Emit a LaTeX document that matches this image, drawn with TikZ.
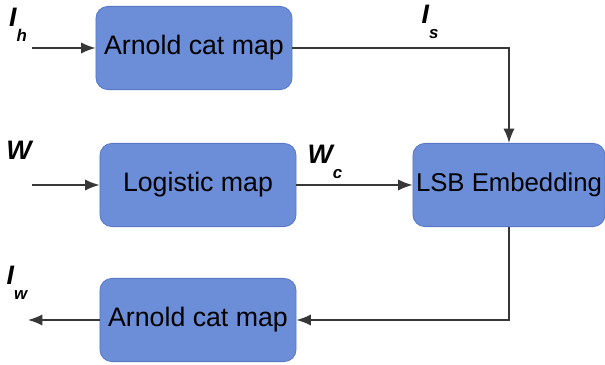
\documentclass[tikz,border=0pt]{standalone}
\usepackage{fontspec}
\setmainfont{Liberation Sans}
\usetikzlibrary{arrows.meta, positioning}
\definecolor{boxblue}{RGB}{108, 141, 216}
\definecolor{boxedge}{RGB}{88, 120, 198}
\definecolor{wire}{RGB}{55, 55, 55}
\newcommand{\sig}[2]{\fontsize{19}{22}\selectfont\bfseries\itshape #1\raisebox{-1.1ex}{\fontsize{12}{12}\selectfont #2}}

\begin{document}
\begin{tikzpicture}[
    x=0.025cm, y=-0.025cm,
    box/.style={rectangle, rounded corners=0.3cm, draw=boxedge, line width=0.6pt, fill=boxblue,
        minimum width=4.9cm, minimum height=2.08cm, inner sep=1pt,
        font=\fontsize{19}{22}\selectfont},
    wirearrow/.style={draw=wire, line width=1.1pt, -{Latex[length=3.6mm, width=2.8mm]}}
]
\useasboundingbox (0,0) rectangle (605,365);

\node[box] (arnoldIn) at (194,48) {Arnold cat map};
\node[box] (logistic) at (198,185) {Logistic map};
\node[box, minimum width=4.8cm, font=\fontsize{18.3}{22}\selectfont] (lsb) at (509,185) {LSB Embedding};
\node[box] (arnoldOut) at (198,320) {Arnold cat map};

\coordinate (hostIn) at (32,48);
\coordinate (markIn) at (32,185);
\coordinate (markOut) at (28,320);

\node (lblIh) at (18,25) {\sig{I}{h}};
\node (lblIs) at (430,22) {\sig{I}{s}};
\node (lblW) at (19,158) {\sig{W}{}};
\node (lblWc) at (325,162) {\sig{W}{c}};
\node (lblIw) at (17,283) {\sig{I}{w}};

\draw[wirearrow] (hostIn) -- (arnoldIn.west);
\draw[wirearrow] (arnoldIn.east) -| (lsb.north);
\draw[wirearrow] (markIn) -- (logistic.west);
\draw[wirearrow] (logistic.east) -- (lsb.west);
\draw[wirearrow] (lsb.south) |- (arnoldOut.east);
\draw[wirearrow] (arnoldOut.west) -- (markOut);
\end{tikzpicture}
\end{document}
